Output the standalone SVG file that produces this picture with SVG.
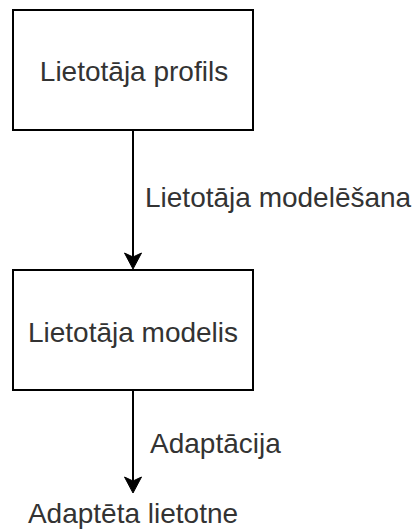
<svg xmlns="http://www.w3.org/2000/svg" width="419" height="531" viewBox="0 0 419 531">
  <style>
    .box { fill: #ffffff; stroke: #000000; stroke-width: 2; }
    .edge { fill: none; stroke: #000000; stroke-width: 2; }
    .head { fill: #000000; stroke: #000000; stroke-width: 1; }
    text { font-family: "Liberation Sans", Arial, sans-serif; font-size: 28px; fill: #333333; }
    .mid { text-anchor: middle; }
  </style>
  <rect width="419" height="531" fill="#ffffff"/>

  <g id="profile">
    <rect class="box" x="13" y="10" width="240" height="120"/>
    <text class="mid" x="134" y="81">Lietotāja profils</text>
  </g>

  <g id="model">
    <rect class="box" x="13" y="270" width="240" height="120"/>
    <text class="mid" x="133" y="342">Lietotāja modelis</text>
  </g>

  <g id="app">
    <text class="mid" x="133" y="523">Adaptēta lietotne</text>
  </g>

  <g id="connectors">
    <line class="edge" x1="133" y1="131" x2="133" y2="258"/>
    <path class="head" d="M133,269 L124.5,253 L133,257 L141.5,253 Z"/>
    <text x="145" y="207">Lietotāja modelēšana</text>

    <line class="edge" x1="133" y1="391" x2="133" y2="482"/>
    <path class="head" d="M133,493 L124.5,477 L133,481 L141.5,477 Z"/>
    <text x="150" y="453">Adaptācija</text>
  </g>
</svg>
